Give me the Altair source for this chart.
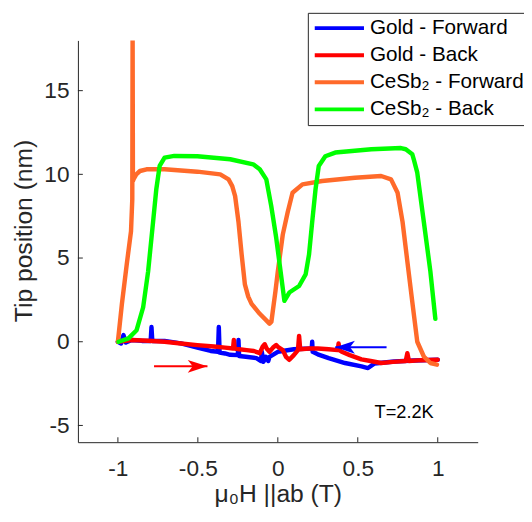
import altair as alt
import pandas as pd

# ---------------- data ----------------
series_names = ["Gold - Forward", "Gold - Back", "CeSb\u2082 - Forward", "CeSb\u2082 - Back"]
series_colors = ["#0000FF", "#FF0000", "#FF6A2A", "#00FF00"]

gold_fwd_x = [-1.0, -0.98, -0.965, -0.95, -0.914, -0.85, -0.795, -0.79, -0.785, -0.708, -0.606, -0.503,
              -0.42, -0.374, -0.369, -0.364, -0.33, -0.298, -0.25, -0.246, -0.242, -0.2, -0.134, -0.105,
              -0.1, -0.09, -0.075, -0.06, -0.052, 0.0, 0.1, 0.2, 0.212, 0.215, 0.218, 0.25, 0.318, 0.42,
              0.523, 0.564, 0.605, 0.728, 0.851, 1.0]
gold_fwd_y = [0.0, -0.1, 0.4, -0.05, 0.1, 0.05, 0.05, 0.88, 0.05, 0.05, -0.1, -0.35,
              -0.55, -0.6, 0.88, -0.65, -0.7, -0.78, -0.8, 0.1, -0.85, -0.9, -0.98, -1.15,
              -0.6, -1.2, -0.9, -1.15, -0.9, -0.6, -0.45, -0.4, -0.4, 0.0, -0.6, -0.75, -0.98, -1.27,
              -1.47, -1.57, -1.3, -1.18, -1.12, -1.08]

gold_back_x = [1.0, 0.9, 0.82, 0.81, 0.80, 0.72, 0.646, 0.58, 0.523, 0.45, 0.40, 0.385, 0.38, 0.375,
               0.318, 0.25, 0.195, 0.14, 0.133, 0.126, 0.1, 0.072, 0.051, 0.031, 0.0, -0.01, -0.03,
               -0.052, -0.07, -0.082, -0.095, -0.113, -0.15, -0.195, -0.24, -0.27, -0.275, -0.28,
               -0.33, -0.4, -0.503, -0.606, -0.708, -0.811, -0.914, -1.0]
gold_back_y = [-1.08, -1.1, -1.15, -0.68, -1.15, -1.2, -1.27, -1.15, -1.05, -0.8, -0.6, -0.5, -0.1, -0.5,
               -0.45, -0.4, -0.4, -0.45, 0.35, -0.5, -0.8, -1.08, -0.9, -0.5, -0.3, -0.2, -0.35,
               -0.6, -0.4, -0.15, -0.3, -0.68, -0.55, -0.5, -0.45, -0.4, 0.1, -0.4,
               -0.35, -0.28, -0.2, -0.1, 0.0, 0.06, 0.1, 0.0]

cesb_fwd_x = [-1.0, -0.975, -0.945, -0.918, -0.91, -0.908, -0.906, -0.9, -0.885, -0.862, -0.821, -0.77,
              -0.708, -0.503, -0.36, -0.308, -0.285, -0.267, -0.246, -0.226, -0.206, -0.185, -0.164,
              -0.113, -0.052, -0.04, -0.031, -0.015, 0.0, 0.031, 0.062, 0.092, 0.154, 0.277, 0.482,
              0.646, 0.708, 0.749, 0.78, 0.81, 0.84, 0.872, 0.913, 0.954, 0.995]
cesb_fwd_y = [0.0, 2.26, 4.6, 6.6, 8.5, 18.5, 9.6, 9.75, 10.0, 10.2, 10.3, 10.3,
              10.3, 10.16, 10.0, 9.7, 9.3, 8.7, 7.16, 5.2, 3.43, 2.7, 2.26,
              1.67, 1.08, 1.2, 1.86, 3.0, 4.2, 6.4, 7.75, 8.9, 9.4, 9.6, 9.8,
              9.9, 9.7, 8.9, 7.16, 4.8, 2.45, 0.0, -0.88, -1.27, -1.37]

cesb_back_x = [0.985, 0.954, 0.913, 0.872, 0.85, 0.841, 0.8, 0.77, 0.585, 0.359, 0.297, 0.256, 0.236,
               0.215, 0.195, 0.174, 0.133, 0.072, 0.041, 0.02, -0.01, -0.041, -0.072, -0.113, -0.154,
               -0.298, -0.503, -0.647, -0.708, -0.739, -0.76, -0.78, -0.811, -0.842, -0.883, -0.934,
               -0.996]
cesb_back_y = [1.37, 4.2, 7.16, 10.1, 10.9, 11.2, 11.5, 11.57, 11.5, 11.3, 11.08, 10.5, 9.12,
               7.16, 5.2, 4.02, 3.33, 2.94, 2.45, 4.0, 6.2, 8.1, 9.7, 10.3, 10.6,
               10.9, 11.08, 11.1, 11.0, 10.5, 9.1, 7.16, 4.2, 2.06, 0.69, 0.2,
               0.0]

x_ticks = [-1, -0.5, 0, 0.5, 1]
y_ticks = [-5, 0, 5, 10, 15]

arrow_x_start = [-0.774, 0.68]
arrow_x_end = [-0.44, 0.359]
arrow_y = [-1.47, -0.33]
arrow_colors = ["#FF0000", "#0000FF"]

note_text = ["T=2.2K"]
note_x = [0.605]
note_y = [-4.55]

# ---------------- chart ----------------
W, H = 406, 408
FONT = "Liberation Sans"
AX = "#262626"

xs = alt.Scale(domain=[-1.25, 1.25], nice=False, zero=False)
ys = alt.Scale(domain=[-6, 18], nice=False, zero=False)
cs = alt.Scale(domain=series_names, range=series_colors)

x_axis = alt.Axis(values=x_ticks, labelExpr="'' + datum.value", title="\u03bc\u2080H ||ab (T)",
                  ticks=False, grid=False, labelPadding=16, labelFontSize=23, titleFontSize=25,
                  titleY=60, titleBaseline="alphabetic")
y_axis = alt.Axis(values=y_ticks, labelExpr="'' + datum.value", title="Tip position (nm)",
                  ticks=False, grid=False, labelPadding=9, labelFontSize=23, titleFontSize=25,
                  titleX=-47, titleY=193, titleBaseline="alphabetic")

legend = alt.Legend(title=None, orient="none", legendX=233.5, legendY=-28,
                    symbolType="stroke", symbolSize=2500, symbolStrokeWidth=4, clipHeight=21,
                    labelFontSize=21, labelFont=FONT, labelColor="#000000", labelOffset=4,
                    labelLimit=400, rowPadding=5.5, padding=5, strokeColor=AX, fillColor="white")

series_data = [(gold_fwd_x, gold_fwd_y), (gold_back_x, gold_back_y),
               (cesb_fwd_x, cesb_fwd_y), (cesb_back_x, cesb_back_y)]

layers = []
for name, (sx, sy) in zip(series_names, series_data):
    df = pd.DataFrame({"x": sx, "y": sy, "series": name, "i": list(range(len(sx)))})
    layers.append(
        alt.Chart(df).mark_line(strokeWidth=4.5, strokeCap="round", strokeJoin="round", clip=True)
        .encode(x=alt.X("x:Q", scale=xs, axis=x_axis),
                y=alt.Y("y:Q", scale=ys, axis=y_axis),
                color=alt.Color("series:N", scale=cs, legend=legend),
                order=alt.Order("i:Q"))
    )

# arrows
right_head = "M 0 0 L -2 -0.65 L -1.5 0 L -2 0.65 Z"
left_head = "M 0 0 L 2 -0.65 L 1.5 0 L 2 0.65 Z"
for k in range(len(arrow_y)):
    adf = pd.DataFrame({"x": [arrow_x_start[k]], "xe": [arrow_x_end[k]], "y": [arrow_y[k]]})
    layers.append(
        alt.Chart(adf).mark_rule(color=arrow_colors[k], strokeWidth=2)
        .encode(x=alt.X("x:Q", scale=xs, axis=x_axis), x2="xe:Q",
                y=alt.Y("y:Q", scale=ys, axis=y_axis))
    )
    hdf = pd.DataFrame({"x": [arrow_x_end[k]], "y": [arrow_y[k]]})
    shape = right_head if arrow_x_end[k] > arrow_x_start[k] else left_head
    layers.append(
        alt.Chart(hdf).mark_point(shape=shape, filled=True, size=400, opacity=1,
                                  color=arrow_colors[k], strokeWidth=0)
        .encode(x=alt.X("x:Q", scale=xs, axis=x_axis),
                y=alt.Y("y:Q", scale=ys, axis=y_axis))
    )

# inward ticks
ytick_df = pd.DataFrame({"y": y_ticks})
layers.append(
    alt.Chart(ytick_df).mark_rule(color=AX, strokeWidth=1)
    .encode(y=alt.Y("y:Q", scale=ys, axis=y_axis), x=alt.value(0), x2=alt.value(5))
)
xtick_df = pd.DataFrame({"x": x_ticks})
layers.append(
    alt.Chart(xtick_df).mark_rule(color=AX, strokeWidth=1)
    .encode(x=alt.X("x:Q", scale=xs, axis=x_axis), y=alt.value(H), y2=alt.value(H - 5))
)

# annotation text
ndf = pd.DataFrame({"x": note_x, "y": note_y, "t": note_text})
layers.append(
    alt.Chart(ndf).mark_text(align="left", baseline="alphabetic", font=FONT, fontSize=18.5, color="#000000")
    .encode(x=alt.X("x:Q", scale=xs, axis=x_axis), y=alt.Y("y:Q", scale=ys, axis=y_axis), text="t:N")
)

chart = alt.layer(*layers).properties(
    width=W, height=H,
    autosize=alt.AutoSizeParams(type="none"),
    padding={"left": 71, "top": 29, "right": 47, "bottom": 69},
    background="white",
).configure_view(stroke=None).configure_axis(
    domainColor=AX, domainWidth=1, labelColor=AX, titleColor=AX, labelFont=FONT, titleFont=FONT,
    titleFontWeight="normal",
)

chart.save("out.html", embed_options={"renderer": "svg", "actions": False})
